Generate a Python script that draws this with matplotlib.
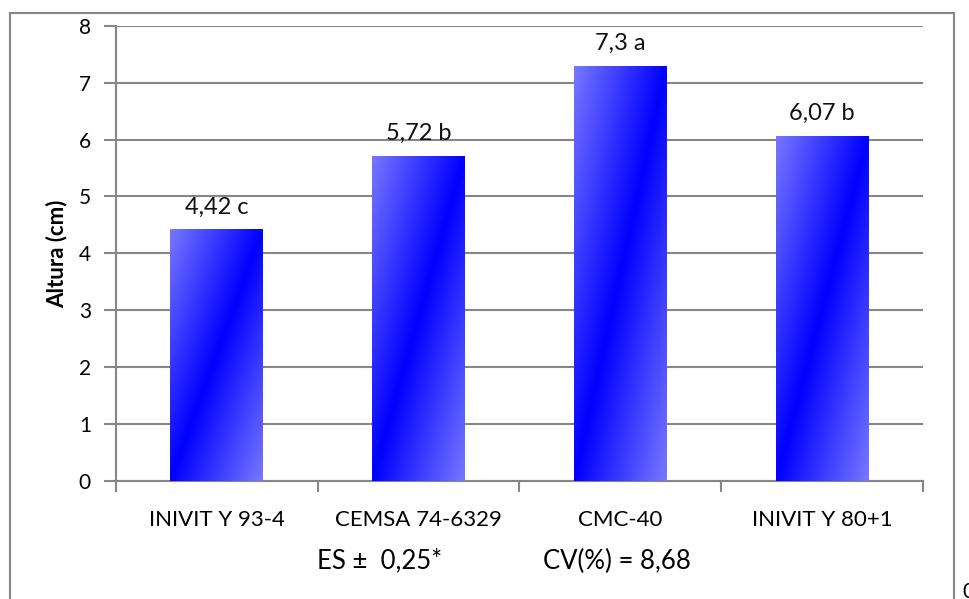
import numpy as np
import matplotlib; matplotlib.use("Agg")
import matplotlib.pyplot as plt
from matplotlib.patches import Rectangle

categories = ["INIVIT Y 93-4", "CEMSA 74-6329", "CMC-40", "INIVIT Y 80+1"]
alturas = [4.42, 5.72, 7.3, 6.07]
letras = ["c", "b", "a", "b"]
yticks = [0, 1, 2, 3, 4, 5, 6, 7, 8]

plt.rcParams["font.family"] = ["Lato", "DejaVu Sans"]
GRAY = "#868686"

fig = plt.figure(figsize=(9.69, 5.99), dpi=100)
ax = fig.add_axes([0.1197, 0.197, 0.8328, 0.760])

x = np.arange(len(categories))
bars = ax.bar(x, alturas, width=0.46, facecolor="none", edgecolor="none", zorder=3)

# diagonal gradient: pure blue along the bottom-left -> top-right diagonal, lighter off it
n = 200
u, v = np.meshgrid(np.linspace(0, 1, n), np.linspace(0, 1, n))
d = np.abs(u - v)
light = np.array([0.47, 0.47, 1.0]); blue = np.array([0.0, 0.0, 1.0])
grad = blue[None, None, :] + (light - blue)[None, None, :] * d[..., None]

for b, val, lt in zip(bars, alturas, letras):
    x0, w, h = b.get_x(), b.get_width(), b.get_height()
    im = ax.imshow(grad, extent=(x0, x0 + w, 0, h), origin="lower", aspect="auto", zorder=3)
    im.set_clip_path(b)
    lab = f"{val:g}".replace(".", ",") + " " + lt
    ax.text(x0 + w / 2, h + 0.2, lab, ha="center", va="bottom", fontsize=17, color="#111")

ax.set_xlim(-0.5, len(categories) - 0.5)
ax.set_ylim(0, 8)
ax.set_yticks(yticks)
ax.set_yticklabels([str(t) for t in yticks], fontsize=15)
ax.set_xticks(x)
ax.set_xticklabels(categories, fontsize=16)
ax.set_xticks(np.arange(len(categories) + 1) - 0.5, minor=True)
ax.tick_params(axis="x", which="major", length=0, pad=21)
ax.tick_params(axis="x", which="minor", length=8, width=1.5, color=GRAY, direction="out")
ax.tick_params(axis="y", length=9, width=1.5, color=GRAY, direction="out", pad=9)
ax.yaxis.grid(True, color=GRAY, linewidth=1.5, zorder=1)
ax.set_axisbelow(True)
for s in ["top", "right"]:
    ax.spines[s].set_visible(False)
for s in ["left", "bottom"]:
    ax.spines[s].set_color(GRAY); ax.spines[s].set_linewidth(1.5)
ax.set_ylabel("Altura (cm)", fontsize=16, fontweight="bold", labelpad=8)

fig.text(317 / 969, 1 - 561 / 599, "ES \u00b1  0,25*", fontsize=18.5, va="center", ha="left")
fig.text(543 / 969, 1 - 561 / 599, "CV(%) = 8,68", fontsize=18.5, va="center", ha="left")
fig.text(962 / 969, 1 - 592 / 599, "0", fontsize=15, va="center", ha="left")

fig.patches.append(Rectangle((10 / 969, -0.05), (954 - 10) / 969, 1.05 - 13 / 599,
                             transform=fig.transFigure, fill=False, edgecolor=GRAY,
                             linewidth=1.5, clip_on=False))

fig.savefig("out.png", dpi=100)
